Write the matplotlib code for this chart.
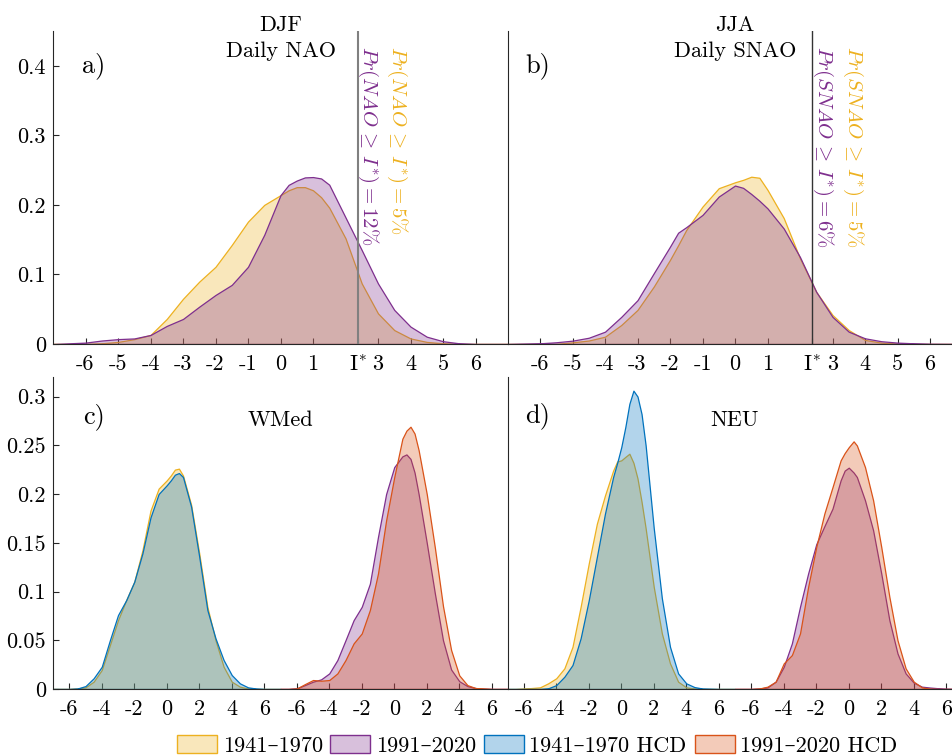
import numpy as np
import matplotlib
matplotlib.use('Agg')
import matplotlib.pyplot as plt
from matplotlib.patches import Patch
from matplotlib.colors import to_rgba

plt.rcParams['font.family'] = ['cmr10', 'DejaVu Serif']
plt.rcParams['mathtext.fontset'] = 'cm'
plt.rcParams['axes.formatter.use_mathtext'] = True

yellow = '#EDB120'
purple = '#7E2F8E'
blue = '#0072BD'
red = '#D95319'

# %%
# a) DJF daily NAO pdfs
x_djf = [-7, -6, -5.5, -5, -4.5, -4, -3.5, -3, -2.5, -2, -1.5, -1, -0.5, 0, 0.25, 0.5, 0.75,
         1, 1.25, 1.5, 2, 2.5, 3, 3.5, 4, 4.5, 5, 5.5, 6, 7]
djf_past = [0, 0, 0.001, 0.003, 0.007, 0.013, 0.036, 0.065, 0.0897, 0.111, 0.1424, 0.176, 0.200,
            0.214, 0.221, 0.2255, 0.2255, 0.221, 0.211, 0.196, 0.152, 0.087, 0.044, 0.020, 0.008,
            0.003, 0.001, 0, 0, 0]
djf_pres = [0, 0.002, 0.005, 0.007, 0.008, 0.013, 0.026, 0.036, 0.0537, 0.0705, 0.085, 0.111, 0.157,
            0.214, 0.2288, 0.235, 0.2395, 0.240, 0.238, 0.229, 0.182, 0.135, 0.087, 0.049, 0.025,
            0.0105, 0.004, 0.001, 0, 0]

# b) JJA daily SNAO pdfs
x_jja = [-7, -6, -5.5, -5, -4.5, -4, -3.5, -3, -2.5, -2, -1.75, -1.5, -1, -0.5, 0, 0.25, 0.5, 0.75,
         1, 1.5, 2, 2.5, 3, 3.5, 4, 4.5, 5, 5.5, 6, 7]
jja_past = [0, 0, 0, 0.0024, 0.005, 0.0105, 0.0273, 0.049, 0.0825, 0.121, 0.142, 0.164, 0.1976,
            0.224, 0.2325, 0.236, 0.2405, 0.239, 0.2216, 0.181, 0.123, 0.075, 0.0417, 0.020,
            0.0058, 0.002, 0.0005, 0, 0, 0]
jja_pres = [0, 0.001, 0.0025, 0.0048, 0.009, 0.0177, 0.039, 0.063, 0.1017, 0.140, 0.160, 0.168,
            0.1856, 0.212, 0.2278, 0.2245, 0.2157, 0.206, 0.195, 0.166, 0.125, 0.075, 0.039,
            0.0177, 0.0082, 0.004, 0.002, 0.001, 0.0003, 0]

i_star = 2.37
pr_djf = (5, 12)
pr_jja = (5, 6)

# c) WMed, 1941-1970 (left group) and 1991-2020 (right group)
x_wm_l = [-7, -6.5, -6, -5.5, -5, -4.5, -4, -3.5, -3, -2.5, -2, -1.5, -1, -0.5, 0, 0.25, 0.5,
          0.75, 1, 1.5, 2, 2.5, 3, 3.5, 4, 4.5, 5, 5.5, 6, 7]
wm_past = [0, 0, 0, 0.0005, 0.0017, 0.0075, 0.0195, 0.045, 0.0706, 0.091, 0.110, 0.142, 0.183,
           0.2055, 0.214, 0.219, 0.225, 0.226, 0.219, 0.189, 0.139, 0.0843, 0.050, 0.0228,
           0.0075, 0.0024, 0.0005, 0, 0, 0]
wm_past_hcd = [0, 0, 0, 0.0005, 0.003, 0.011, 0.0228, 0.050, 0.0758, 0.091, 0.110, 0.139, 0.176,
               0.200, 0.209, 0.214, 0.2198, 0.2215, 0.2174, 0.187, 0.1355, 0.081, 0.052, 0.0297,
               0.0143, 0.0058, 0.0017, 0.0005, 0, 0]
x_wm_r = [-7, -6.5, -6, -5.5, -5, -4.5, -4, -3.5, -3, -2.5, -2, -1.5, -1, -0.5, 0, 0.5, 0.75,
          1, 1.25, 1.5, 2, 2.5, 3, 3.5, 4, 4.5, 5, 5.5, 6, 7]
wm_pres = [0, 0, 0.0007, 0.004, 0.0075, 0.0099, 0.016, 0.0297, 0.050, 0.0706, 0.0843, 0.108,
           0.156, 0.200, 0.2276, 0.2386, 0.2406, 0.236, 0.222, 0.200, 0.150, 0.098, 0.050,
           0.020, 0.008, 0.003, 0.001, 0.0003, 0, 0]
wm_pres_hcd = [0, 0, 0.0005, 0.005, 0.0092, 0.0085, 0.0092, 0.016, 0.0297, 0.0468, 0.057, 0.081,
               0.1185, 0.173, 0.2174, 0.2567, 0.265, 0.269, 0.262, 0.245, 0.200, 0.145, 0.085,
               0.040, 0.014, 0.004, 0.001, 0.0005, 0, 0]

# d) NEU
x_ne_l = [-7, -6.5, -6, -5.5, -5, -4.5, -4, -3.5, -3, -2.5, -2, -1.5, -1, -0.5, -0.25, 0, 0.25,
          0.5, 0.75, 1, 1.25, 1.5, 2, 2.5, 3, 3.5, 4, 4.5, 5, 6, 7]
ne_past = [0, 0, 0.0005, 0.001, 0.0017, 0.0058, 0.011, 0.0212, 0.0433, 0.0843, 0.1287, 0.1696,
           0.1986, 0.224, 0.2334, 0.2345, 0.238, 0.2413, 0.232, 0.216, 0.192, 0.165, 0.1047,
           0.057, 0.0263, 0.0075, 0.0017, 0.0005, 0, 0, 0]
ne_past_hcd = [0, 0, 0, 0, 0, 0.0007, 0.004, 0.0126, 0.0246, 0.052, 0.091, 0.1355, 0.180, 0.2174,
               0.232, 0.248, 0.2686, 0.2925, 0.306, 0.300, 0.282, 0.250, 0.165, 0.093, 0.0433,
               0.016, 0.0058, 0.002, 0.0005, 0, 0]
x_ne_r = [-7, -6, -5.5, -5, -4.5, -4, -3.5, -3, -2.5, -2, -1.5, -1, -0.5, -0.25, 0, 0.3, 0.5,
          1, 1.5, 2, 2.5, 3, 3.5, 4, 4.5, 5, 5.5, 6, 7]
ne_pres = [0, 0, 0.0005, 0.0017, 0.0075, 0.0228, 0.0468, 0.0843, 0.1185, 0.1485, 0.167, 0.185,
           0.214, 0.224, 0.227, 0.222, 0.2174, 0.1935, 0.1628, 0.1185, 0.0706, 0.0365, 0.016,
           0.0065, 0.0024, 0.0015, 0.0008, 0.0003, 0]
ne_pres_hcd = [0, 0, 0.0005, 0.0024, 0.0075, 0.0263, 0.0348, 0.057, 0.1047, 0.1457, 0.180, 0.207,
               0.2345, 0.242, 0.248, 0.254, 0.2498, 0.2276, 0.1935, 0.1457, 0.0945, 0.050, 0.0212,
               0.0075, 0.0017, 0.0003, 0, 0, 0]

legend_labels = ['1941\u20131970', '1991\u20132020', '1941\u20131970 HCD', '1991\u20132020 HCD']

# %%
W, H = 952, 756
fig = plt.figure(figsize=(W / 100, H / 100), dpi=100)


def box(l, t, w, h):
    return [l / W, 1 - (t + h) / H, w / W, h / H]


ax_a = fig.add_axes(box(53, 31, 455, 313))
ax_b = fig.add_axes(box(507.5, 31, 455, 313))
ax_c = fig.add_axes(box(53, 377, 455, 312))
ax_d = fig.add_axes(box(507.5, 377, 455, 312))


def area(ax, x, y, c, off=0):
    ax.fill_between(np.asarray(x) + off, 0, y, facecolor=to_rgba(c, 0.3),
                    edgecolor=c, lw=0.9, zorder=2)


for ax in (ax_a, ax_b, ax_c, ax_d):
    ax.patch.set_alpha(0)
    for s in ('top', 'right'):
        ax.spines[s].set_visible(False)
    for s in ('left', 'bottom'):
        ax.spines[s].set_color('#262626')
        ax.spines[s].set_linewidth(0.8)
    ax.tick_params(direction='in', length=4, width=0.8, color='#262626',
                   labelcolor='k', labelsize=16)
    ax.tick_params(axis='x', pad=7.5)
    ax.tick_params(axis='y', pad=5)
    ax.set_xlim(-7, 7)

# top row
area(ax_a, x_djf, djf_past, yellow)
area(ax_a, x_djf, djf_pres, purple)
area(ax_b, x_jja, jja_past, yellow)
area(ax_b, x_jja, jja_pres, purple)

top_ticks = [-6, -5, -4, -3, -2, -1, 0, 1, i_star, 3, 4, 5, 6]
top_labels = [str(t) for t in [-6, -5, -4, -3, -2, -1, 0, 1]] + [r'$\mathrm{I}^{*}$', '3', '4', '5', '6']
for ax in (ax_a, ax_b):
    ax.set_ylim(0, 0.45)
    ax.set_xticks(top_ticks)
    ax.set_xticklabels(top_labels)
ax_a.set_yticks([0, 0.1, 0.2, 0.3, 0.4])
ax_a.set_yticklabels(['0', '0.1', '0.2', '0.3', '0.4'])
ax_b.set_yticks([])

ax_a.axvline(i_star, color='#808080', lw=1.5, zorder=3)
ax_b.axvline(i_star, color='#333333', lw=1.0, zorder=3)

fs_pr = 15
pr_fmt = r'$Pr(%s\,\geq\,I^{*}) = %d\%%$'
ax_a.text(3.585, 0.429, pr_fmt % ('NAO', pr_djf[0]), color=yellow,
          rotation=270, ha='center', va='top', fontsize=fs_pr)
ax_a.text(2.69, 0.429, pr_fmt % ('NAO', pr_djf[1]), color=purple,
          rotation=270, ha='center', va='top', fontsize=fs_pr)
ax_b.text(3.63, 0.429, pr_fmt % ('SNAO', pr_jja[0]), color=yellow,
          rotation=270, ha='center', va='top', fontsize=fs_pr)
ax_b.text(2.71, 0.429, pr_fmt % ('SNAO', pr_jja[1]), color=purple,
          rotation=270, ha='center', va='top', fontsize=fs_pr)

ax_a.text(0.5, (344 - 38) / 313, 'DJF\nDaily NAO', transform=ax_a.transAxes, ha='center',
          va='center', fontsize=16, linespacing=1.4, clip_on=False)
ax_b.text(0.5, (344 - 38) / 313, 'JJA\nDaily SNAO', transform=ax_b.transAxes, ha='center',
          va='center', fontsize=16, linespacing=1.4, clip_on=False)
ax_a.text(-6.1, 0.4, 'a)', fontsize=19, va='center')
ax_b.text(-6.46, 0.4, 'b)', fontsize=19, va='center')

# bottom row: two groups on one axis, second shifted by 14
shift = 14
area(ax_c, x_wm_l, wm_past, yellow)
area(ax_c, x_wm_l, wm_past_hcd, blue)
area(ax_c, x_wm_r, wm_pres, purple, shift)
area(ax_c, x_wm_r, wm_pres_hcd, red, shift)
area(ax_d, x_ne_l, ne_past, yellow)
area(ax_d, x_ne_l, ne_past_hcd, blue)
area(ax_d, x_ne_r, ne_pres, purple, shift)
area(ax_d, x_ne_r, ne_pres_hcd, red, shift)

grp = [-6, -4, -2, 0, 2, 4, 6]
bot_ticks = grp + [g + shift for g in grp]
bot_labels = [str(g) for g in grp] * 2
for ax in (ax_c, ax_d):
    ax.set_xlim(-7, 21)
    ax.set_ylim(0, 0.32)
    ax.set_xticks(bot_ticks)
    ax.set_xticklabels(bot_labels)
ax_c.set_yticks([0, 0.05, 0.1, 0.15, 0.2, 0.25, 0.3])
ax_c.set_yticklabels(['0', '0.05', '0.1', '0.15', '0.2', '0.25', '0.3'])
ax_d.set_yticks([])

ax_c.text(-5.17, 0.2795, 'c)', fontsize=19, va='center')
ax_d.text(-5.92, 0.2805, 'd)', fontsize=19, va='center')
ax_c.text(0.5, (689 - 420) / 312, 'WMed', transform=ax_c.transAxes, ha='center',
          va='center', fontsize=16)
ax_d.text(0.5, (689 - 420) / 312, 'NEU', transform=ax_d.transAxes, ha='center',
          va='center', fontsize=16)

handles = [Patch(facecolor=to_rgba(c, 0.3), edgecolor=c, lw=1) for c in (yellow, purple, blue, red)]
fig.legend(handles, legend_labels, loc='upper left', bbox_to_anchor=(177 / W, 1 - 735 / H),
           ncol=4, frameon=False, fontsize=16, handlelength=1.8, handleheight=0.85,
           handletextpad=0.25, columnspacing=0.35, borderpad=0, borderaxespad=0)

fig.savefig('out.png', dpi=100)
